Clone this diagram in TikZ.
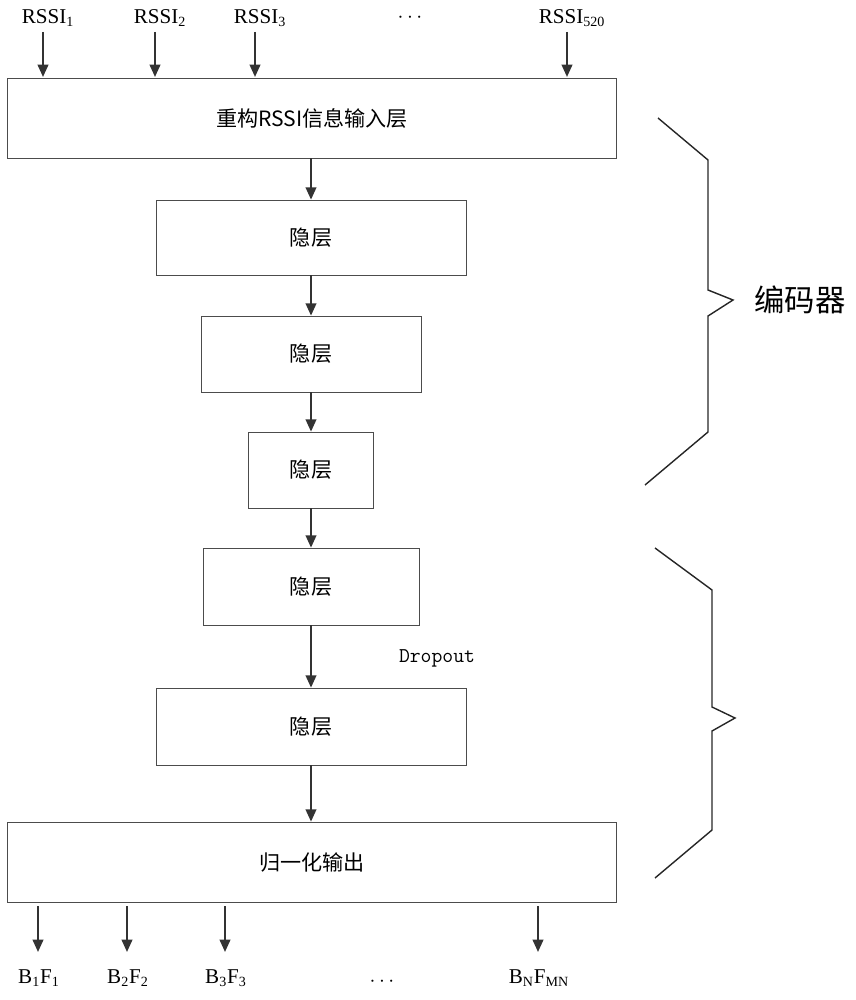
\documentclass[tikz,border=0pt]{standalone}
\usepackage{fontspec}
\setmainfont{Liberation Serif}
\newfontfamily\cjk{Noto Sans CJK SC}
\usetikzlibrary{arrows.meta,positioning}
\begin{document}
\begin{tikzpicture}[x=0.02cm,y=-0.02cm,
      layer/.style={rectangle,draw=black!70,font=\cjk\large,inner sep=0pt},
      arrow/.style={-{Triangle[length=7pt,width=6pt]},very thick,draw=black!80},
      brace/.style={draw=black!85,thick,line join=miter},
      lbl/.style={font=\large}
    ]
    \useasboundingbox (0,0) rectangle (855,1000);

    % Layers
    \node[layer,minimum width=12.18cm,minimum height=1.6cm] (In) at (312,118) {重构RSSI信息输入层};
    \node[layer,minimum width=6.2cm,minimum height=1.5cm] (H1) at (311,237.5) {隐层};
    \node[layer,minimum width=4.4cm,minimum height=1.52cm] (H2) at (311,354) {隐层};
    \node[layer,minimum width=2.5cm,minimum height=1.52cm] (H3) at (311,470) {隐层};
    \node[layer,minimum width=4.32cm,minimum height=1.54cm] (H4) at (311,586.5) {隐层};
    \node[layer,minimum width=6.2cm,minimum height=1.54cm] (H5) at (311,726.5) {隐层};
    \node[layer,minimum width=12.18cm,minimum height=1.6cm] (Out) at (312,862) {归一化输出};

    % Connections
    \draw[arrow] (In.south -| H1.north) -- (H1.north);
    \draw[arrow] (H1) -- (H2);
    \draw[arrow] (H2) -- (H3);
    \draw[arrow] (H3) -- (H4);
    \draw[arrow] (H4) -- (H5);
    \draw[arrow] (H5.south) -- (Out.north -| H5.south);
    \node[font=\ttfamily\large] (Drop) at (437,658) {Dropout};

    % Inputs
    \foreach \x/\s [count=\i] in {43/1,155/2,255/3,567/520} {
      \node[lbl] (R\i) at (\x+5,18) {RSSI\textsubscript{\s}};
      \coordinate (Rt\i) at (\x,32);
      \coordinate (Rb\i) at (\x,77);
      \draw[arrow] (Rt\i) -- (Rb\i);
    }
    \node[lbl] (Rdots) at (410,18) {$\cdots$};

    % Outputs
    \foreach \x/\s [count=\i] in {38/B\textsubscript{1}F\textsubscript{1},127/B\textsubscript{2}F\textsubscript{2},225/B\textsubscript{3}F\textsubscript{3},538/B\textsubscript{N}F\textsubscript{MN}} {
      \coordinate (Ot\i) at (\x,906);
      \coordinate (Ob\i) at (\x,952);
      \draw[arrow] (Ot\i) -- (Ob\i);
      \node[lbl] (B\i) at (\x+1,978) {\s};
    }
    \node[lbl] (Bdots) at (382,982) {$\cdots$};

    % Braces
    \draw[brace] (658,118) -- (708,160) -- (708,290) -- (733,300) -- (708,316) -- (708,432) -- (645,485);
    \node[font=\cjk\LARGE] (Enc) at (800,300) {编码器};
    \draw[brace] (655,548) -- (712,590) -- (712,707) -- (735,718) -- (712,731) -- (712,830) -- (655,878);
  \end{tikzpicture}
\end{document}
